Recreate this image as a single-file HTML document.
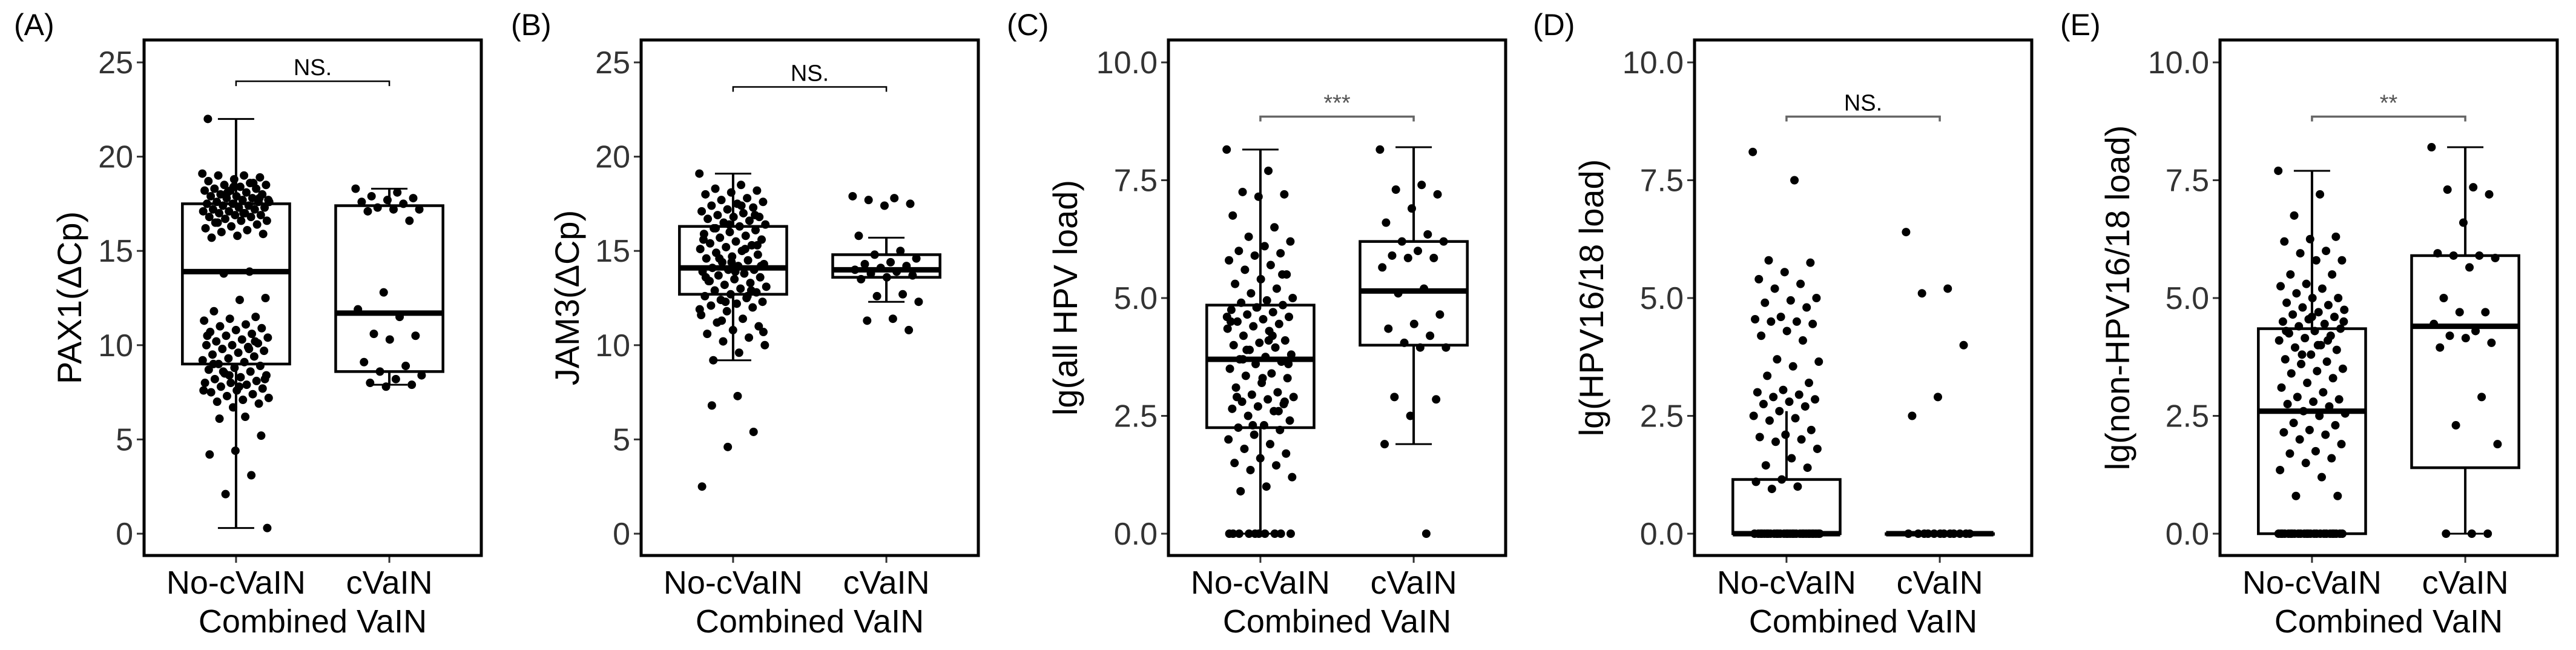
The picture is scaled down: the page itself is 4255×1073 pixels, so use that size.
<!DOCTYPE html>
<html><head><meta charset="utf-8"><style>
html,body{margin:0;padding:0;background:#fff;}
svg{display:block;font-family:"Liberation Sans",Arial,sans-serif;}
</style></head><body>
<svg id="fig" width="4255" height="1073" viewBox="0 0 4255 1073" xmlns="http://www.w3.org/2000/svg"></svg>
<script>
// ---- data ----
const categories = ["No-cVaIN", "cVaIN"];
const panelLabels = ["(A)", "(B)", "(C)", "(D)", "(E)"];
const yTitles = ["PAX1(\u0394Cp)", "JAM3(\u0394Cp)", "lg(all HPV load)", "lg(HPV16/18 load)", "lg(non-HPV16/18 load)"];
const sigLabels = ["NS.", "NS.", "***", "NS.", "**"];
const ticksA = [0, 5, 10, 15, 20, 25];
const ticksC = [0, 2.5, 5, 7.5, 10];
const tickTextA = ["0", "5", "10", "15", "20", "25"];
const tickTextC = ["0.0", "2.5", "5.0", "7.5", "10.0"];
const sigHeights = [24, 23.7, 8.85, 8.85, 8.85];

// box stats: [whiskerLow, q1, median, q3, whiskerHigh]
const statsA = [[0.3, 9.0, 13.9, 17.5, 22.0], [7.9, 8.6, 11.7, 17.4, 18.3]];
const statsB = [[9.2, 12.7, 14.1, 16.3, 19.1], [12.3, 13.6, 14.0, 14.8, 15.7]];
const statsC = [[0, 2.25, 3.7, 4.85, 8.15], [1.9, 4.0, 5.15, 6.2, 8.2]];
const statsD = [[0, 0, 0, 1.15, 2.6], [0, 0, 0, 0, 0]];
const statsE = [[0, 0, 2.6, 4.35, 7.7], [0, 1.4, 4.4, 5.9, 8.2]];

const pointsA_no = [19.1,19.0,19.0,18.9,18.8,18.7,18.6,18.5,18.5,18.4,18.3,18.3,18.2,18.2,18.1,18.0,18.0,17.9,17.9,17.8,17.8,17.7,17.7,17.6,17.6,17.5,17.5,17.4,17.4,17.3,17.3,17.2,17.2,17.1,17.1,17.0,17.0,16.9,16.9,16.8,16.8,16.7,16.6,16.6,16.5,16.4,16.3,16.2,16.1,16.0,15.9,15.8,15.7,18.6,18.1,17.6,17.0,16.5,17.8,18.4,
22.0,13.9,13.8,12.5,12.4,11.8,11.5,11.4,11.3,
11.1,11.0,10.9,10.8,10.7,10.6,10.5,10.4,10.3,10.2,10.1,10.0,10.0,9.9,9.8,9.7,9.6,9.5,9.4,9.3,9.2,9.1,9.0,8.9,8.8,8.7,8.6,8.5,8.4,8.3,8.2,8.1,8.0,8.0,7.9,7.8,7.7,7.6,7.5,7.4,7.3,7.2,7.1,7.0,6.9,6.7,10.5,9.8,8.6,8.2,7.8,9.0,10.2,8.4,7.6,
6.2,6.1,5.2,4.4,4.2,3.1,2.1,0.3];
const pointsA_cv = [18.3,18.1,17.9,17.8,17.7,17.6,17.5,17.3,17.2,17.2,17.1,16.6,12.8,11.9,11.5,10.6,10.5,10.3,9.1,8.9,8.6,8.4,8.2,8.0,7.9,7.8];
const pointsB_no = [19.1,18.5,18.3,18.2,18.1,18.0,17.8,17.7,17.6,17.5,17.4,17.3,17.2,17.1,17.0,16.9,16.8,16.8,16.7,16.6,16.5,16.4,16.3,16.2,16.1,16.0,15.9,15.8,15.7,15.6,15.5,15.4,15.3,15.2,15.1,15.0,14.9,14.8,14.7,14.6,14.5,14.4,14.3,14.2,14.1,14.0,14.0,13.9,13.8,13.7,13.6,13.5,13.4,13.3,13.2,13.1,13.0,12.9,12.8,12.7,12.6,12.5,12.4,12.3,12.2,12.1,12.0,11.8,11.6,11.4,11.2,11.0,10.8,10.6,10.4,10.2,10.0,9.6,9.2,16.9,16.4,15.6,15.1,14.6,14.2,13.9,13.4,12.9,12.3,11.9,17.4,16.2,15.3,14.4,13.6,12.6,11.3,10.7,7.3,6.8,5.4,4.6,2.5];
const pointsB_cv = [17.9,17.8,17.7,17.5,17.4,15.8,15.0,14.8,14.6,14.4,14.3,14.2,14.1,14.0,13.9,13.8,13.7,13.6,13.5,12.7,12.6,12.3,11.4,11.3,10.8];
const pointsC_no = [8.15,7.7,7.25,7.2,7.15,6.75,6.5,6.3,6.2,6.1,6.0,5.95,5.9,5.8,5.7,5.6,5.5,5.4,5.3,5.2,5.1,5.0,4.95,4.9,4.85,4.8,4.75,4.7,4.65,4.6,4.55,4.5,4.45,4.4,4.35,4.3,4.2,4.1,4.05,4.0,3.95,3.9,3.8,3.75,3.7,3.65,3.6,3.5,3.4,3.35,3.3,3.2,3.1,3.0,2.95,2.9,2.85,2.8,2.75,2.7,2.65,2.6,2.5,2.4,2.3,2.25,2.2,2.1,2.0,1.9,1.8,1.7,1.6,1.5,1.45,1.35,1.2,1.0,0.9,5.5,4.8,4.5,4.2,3.9,3.6,3.3,2.9,2.6,2.3,4.6,4.1,3.7,2.8,0,0,0,0,0,0,0,0,0,0];
const pointsC_cv = [8.15,7.4,7.3,7.2,6.9,6.6,6.35,6.2,6.2,6.0,5.9,5.85,5.85,5.65,5.2,5.1,4.65,4.45,4.35,4.2,4.05,3.95,3.95,2.9,2.85,2.5,1.9,0];
const pointsD_no = [8.1,7.5,5.8,5.75,5.55,5.4,5.3,5.2,5.0,4.95,4.9,4.8,4.6,4.55,4.5,4.5,4.45,4.3,4.2,4.1,3.7,3.65,3.55,3.35,3.2,3.05,3.0,2.95,2.9,2.85,2.8,2.75,2.7,2.6,2.5,2.45,2.4,2.2,2.1,2.05,2.0,1.95,1.8,1.6,1.45,1.4,1.15,1.1,1.0,0.95,0,0,0,0,0,0,0,0,0,0,0,0,0,0,0,0,0,0,0,0,0,0,0,0,0,0,0,0,0,0];
const pointsD_cv = [6.4,5.2,5.1,4.0,2.9,2.5,0,0,0,0,0,0,0,0,0,0,0,0];
const pointsE_no = [7.7,7.2,6.75,6.3,6.25,6.2,6.0,5.95,5.8,5.8,5.5,5.5,5.3,5.25,5.2,5.1,5.0,5.0,4.9,4.85,4.8,4.75,4.7,4.65,4.6,4.55,4.5,4.45,4.4,4.35,4.3,4.25,4.2,4.15,4.1,4.0,3.95,3.9,3.8,3.7,3.65,3.6,3.5,3.45,3.4,3.3,3.2,3.1,3.0,2.9,2.85,2.8,2.75,2.7,2.6,2.55,2.5,2.35,2.3,2.2,2.15,2.1,2.0,1.9,1.75,1.7,1.6,1.5,1.35,1.2,0.8,0.8,4.6,4.3,4.1,3.8,4.5,4.0,0,0,0,0,0,0,0,0,0,0,0,0,0,0,0,0,0,0,0,0,0,0,0,0,0];
const pointsE_cv = [8.2,7.35,7.3,7.2,6.6,5.95,5.9,5.9,5.85,5.65,5.0,4.7,4.7,4.45,4.3,4.2,4.05,4.15,3.95,2.9,2.3,1.9,0,0,0];

const panels = [
  {stats: statsA, pts: [pointsA_no, pointsA_cv], ticks: ticksA, tt: tickTextA, max: 25, left: 238, title: 115, lab: 23, sigY: 24.0, bracketColor: "#000"},
  {stats: statsB, pts: [pointsB_no, pointsB_cv], ticks: ticksA, tt: tickTextA, max: 25, left: 1059, title: 937, lab: 844, sigY: 23.7, bracketColor: "#000"},
  {stats: statsC, pts: [pointsC_no, pointsC_cv], ticks: ticksC, tt: tickTextC, max: 10, left: 1930, title: 1760, lab: 1663, sigY: 8.85, bracketColor: "#666"},
  {stats: statsD, pts: [pointsD_no, pointsD_cv], ticks: ticksC, tt: tickTextC, max: 10, left: 2799, title: 2629, lab: 2532, sigY: 8.85, bracketColor: "#666"},
  {stats: statsE, pts: [pointsE_no, pointsE_cv], ticks: ticksC, tt: tickTextC, max: 10, left: 3667, title: 3498, lab: 3403, sigY: 8.85, bracketColor: "#666"}
];

const NS = "http://www.w3.org/2000/svg";
const svg = document.getElementById("fig");
function mk(tag, attrs, parent) {
  const e = document.createElementNS(NS, tag);
  for (const k in attrs) e.setAttribute(k, attrs[k]);
  (parent || svg).appendChild(e);
  return e;
}
const W = 557, TOP = 66, BOT = 917, Y0 = 881, YTOP = 103;

panels.forEach((p, pi) => {
  const g = mk("g", {});
  
  
  const y = v => Y0 - (v / p.max) * (Y0 - YTOP);
  const x = c => p.left + W * (0.6 + c) / 2.2;
  const unit = W / 2.2;

  const lab = mk("text", {x: p.lab, y: 58, "font-size": 50, fill: "#000"}, g);
  lab.textContent = panelLabels[pi];
  
  

  p.ticks.forEach((t, ti) => {
    const tk = mk("line", {x1: p.left - 12, x2: p.left, y1: y(t), y2: y(t), stroke: "#333", "stroke-width": 3}, g);
    
    
    const tl = mk("text", {x: p.left - 18, y: y(t) + 18, "font-size": 52, "text-anchor": "end", fill: "#333"}, g);
    tl.textContent = p.tt[ti];
    
    
  });
  const yt = mk("text", {x: 0, y: 0, "font-size": 56, "text-anchor": "middle", fill: "#000",
    transform: `translate(${p.title + 19},${(TOP + BOT) / 2}) rotate(-90)`}, g);
  yt.textContent = yTitles[pi];
  
  

  categories.forEach((c, ci) => {
    const tk = mk("line", {x1: x(ci), x2: x(ci), y1: BOT, y2: BOT + 12, stroke: "#333", "stroke-width": 3}, g);
    
    
    const tl = mk("text", {x: x(ci), y: 980, "font-size": 54, "text-anchor": "middle", fill: "#000"}, g);
    tl.textContent = c;
    
    
  });
  const xt = mk("text", {x: p.left + W / 2, y: 1044, "font-size": 54, "text-anchor": "middle", fill: "#000"}, g);
  xt.textContent = "Combined VaIN";
  
  

  p.stats.forEach((s, ci) => {
    const cx = x(ci), bw = unit * 0.7, cap = 60;
    const bg = mk("g", {stroke: "#000", fill: "none"}, g);
    
    
    mk("line", {x1: cx, x2: cx, y1: y(s[3]), y2: y(s[4]), "stroke-width": 4}, bg);
    mk("line", {x1: cx, x2: cx, y1: y(s[1]), y2: y(s[0]), "stroke-width": 4}, bg);
    if (s[4] > s[3] && pi !== 3) mk("line", {x1: cx - cap / 2, x2: cx + cap / 2, y1: y(s[4]), y2: y(s[4]), "stroke-width": 3}, bg);
    if (s[0] < s[1]) mk("line", {x1: cx - cap / 2, x2: cx + cap / 2, y1: y(s[0]), y2: y(s[0]), "stroke-width": 3}, bg);
    mk("rect", {x: cx - bw / 2, y: y(s[3]), width: bw, height: Math.max(1, y(s[1]) - y(s[3])), "stroke-width": 4.5}, bg);
    mk("line", {x1: cx - bw / 2, x2: cx + bw / 2, y1: y(s[2]), y2: y(s[2]), "stroke-width": 9}, bg);
  });

  p.pts.forEach((arr, ci) => {
    const pg = mk("g", {fill: "#000"}, g);
    
    
    arr.forEach((v, i) => {
      const j = (((i * 0.6180339887) % 1) - 0.5) * 2 * (unit * 0.22);
      const c = mk("circle", {cx: x(ci) + j, cy: y(v), r: 7}, pg);
      
      
    });
  });

  const by = y(p.sigY);
  const br = mk("path", {d: `M${x(0)},${by + 8}V${by}H${x(1)}V${by + 8}`, stroke: p.bracketColor, "stroke-width": pi < 2 ? 2.5 : 3.5, fill: "none"}, g);
  
  
  const st = mk("text", {x: (x(0) + x(1)) / 2, y: by - 10, "font-size": 38, "text-anchor": "middle", fill: pi < 2 || pi === 3 ? "#000" : "#555"}, g);
  st.textContent = sigLabels[pi];
  
  

  const fr = mk("rect", {x: p.left, y: TOP, width: W, height: BOT - TOP, fill: "none", stroke: "#000", "stroke-width": 5}, g);
  
  
});
</script>
</body></html>
